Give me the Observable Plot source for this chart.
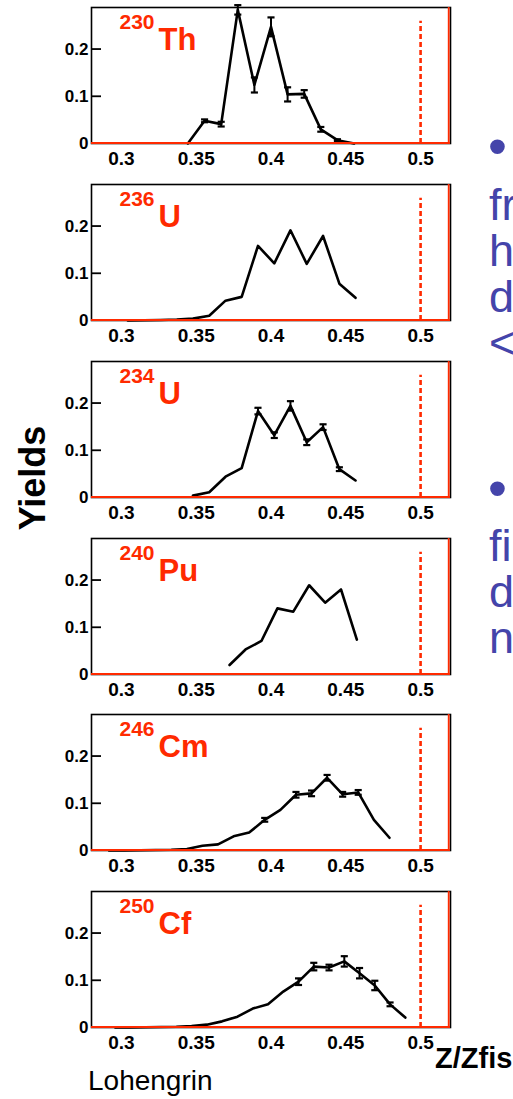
<!DOCTYPE html>
<html>
<head>
<meta charset="utf-8">
<script src="https://cdn.jsdelivr.net/npm/d3@7"></script>
<script src="https://cdn.jsdelivr.net/npm/@observablehq/plot@0.6"></script>
<style>
  html, body { margin: 0; padding: 0; background: #fff; }
  #page { position: relative; width: 513px; height: 1099px; overflow: hidden; font-family: "Liberation Sans", Arial, sans-serif; }
  .panel { position: absolute; left: 0; }
  #overlay { position: absolute; left: 0; top: 0; pointer-events: none; }
</style>
</head>
<body>
<div id="page"></div>
<script>
// ---------------- data ----------------
const xDomain = [0.28, 0.52];
const yDomain = [0, 0.288];
const xTicks = [0.3, 0.35, 0.4, 0.45, 0.5];
const xTickLabels = ["0.3", "0.35", "0.4", "0.45", "0.5"];
const yTicks = [0, 0.1, 0.2];
const yTickLabels = ["0", "0.1", "0.2"];
const symmetryX = 0.5;
const symmetryTop = 0.259;

const massNumbers = ["230", "236", "234", "240", "246", "250"];
const elements = ["Th", "U", "U", "Pu", "Cm", "Cf"];

const th230X = [0.3444, 0.3556, 0.3667, 0.3778, 0.3889, 0.4000, 0.4111, 0.4222, 0.4333, 0.4444, 0.4556];
const th230Y = [0, 0.048, 0.041, 0.283, 0.124, 0.247, 0.104, 0.105, 0.030, 0.007, 0];
const th230Err = [0, 0.003, 0.005, 0.010, 0.016, 0.020, 0.015, 0.008, 0.005, 0.002, 0];

const u236X = [0.3043, 0.3152, 0.3261, 0.3370, 0.3478, 0.3587, 0.3696, 0.3804, 0.3913, 0.4022, 0.4130, 0.4239, 0.4348, 0.4457, 0.4565];
const u236Y = [0, 0.0005, 0.001, 0.002, 0.004, 0.010, 0.042, 0.050, 0.158, 0.121, 0.191, 0.120, 0.179, 0.078, 0.048];
const u236Err = [0, 0, 0, 0, 0, 0, 0, 0, 0, 0, 0, 0, 0, 0, 0];

const u234X = [0.3478, 0.3587, 0.3696, 0.3804, 0.3913, 0.4022, 0.4130, 0.4239, 0.4348, 0.4457, 0.4565];
const u234Y = [0.004, 0.011, 0.044, 0.062, 0.183, 0.132, 0.194, 0.117, 0.149, 0.060, 0.036];
const u234Err = [0, 0, 0, 0, 0.007, 0.006, 0.010, 0.006, 0.006, 0.004, 0];

const pu240X = [0.3723, 0.3830, 0.3936, 0.4043, 0.4149, 0.4255, 0.4362, 0.4468, 0.4574];
const pu240Y = [0.020, 0.053, 0.071, 0.140, 0.133, 0.189, 0.152, 0.180, 0.074];
const pu240Err = [0, 0, 0, 0, 0, 0, 0, 0, 0];

const cm246X = [0.2917, 0.3021, 0.3125, 0.3229, 0.3333, 0.3438, 0.3542, 0.3646, 0.3750, 0.3854, 0.3958, 0.4063, 0.4167, 0.4271, 0.4375, 0.4479, 0.4583, 0.4688, 0.4792];
const cm246Y = [0, 0, 0.0005, 0.001, 0.0015, 0.003, 0.010, 0.013, 0.030, 0.038, 0.065, 0.086, 0.118, 0.121, 0.154, 0.119, 0.123, 0.065, 0.027];
const cm246Err = [0, 0, 0, 0, 0, 0, 0, 0, 0, 0, 0.004, 0, 0.006, 0.006, 0.006, 0.005, 0.005, 0, 0];

const cf250X = [0.2959, 0.3061, 0.3163, 0.3265, 0.3367, 0.3469, 0.3571, 0.3673, 0.3776, 0.3878, 0.3980, 0.4082, 0.4184, 0.4286, 0.4388, 0.4490, 0.4592, 0.4694, 0.4796, 0.4898];
const cf250Y = [0, 0, 0.0005, 0.001, 0.0015, 0.003, 0.006, 0.013, 0.023, 0.040, 0.049, 0.076, 0.097, 0.129, 0.127, 0.140, 0.115, 0.089, 0.049, 0.021];
const cf250Err = [0, 0, 0, 0, 0, 0, 0, 0, 0, 0, 0, 0, 0.007, 0.008, 0.006, 0.011, 0.011, 0.010, 0.004, 0];

const seriesX = [th230X, u236X, u234X, pu240X, cm246X, cf250X];
const seriesY = [th230Y, u236Y, u234Y, pu240Y, cm246Y, cf250Y];
const seriesErr = [th230Err, u236Err, u234Err, pu240Err, cm246Err, cf250Err];

const yAxisTitle = "Yields";
const xAxisTitle = "Z/Zfis";
const footnote = "Lohengrin";
const sideTextLines = ["\u2022", "fr", "h", "d", "<", "\u2022", "fi", "d", "n"];

// ---------------- layout / style ----------------
const RED = "#ff2a00";
const FONT = "'Liberation Sans', Arial, Helvetica, sans-serif";
const panelTops = [2, 179, 356, 533, 709, 886];
const W = 460, H = 177, ML = 91, MR = 10, MT = 5, MB = 36;
const plotW = W - ML - MR;

const capSymbol = {
  draw(context, size) {
    const w = Math.sqrt(size);
    context.moveTo(-w / 2, 0);
    context.lineTo(w / 2, 0);
  }
};

const page = document.getElementById("page");

seriesX.forEach((xs, i) => {
  const data = xs.map((x, j) => ({x, y: seriesY[i][j], e: seriesErr[i][j]}));
  const errs = data.filter(d => d.e > 0);
  const chart = Plot.plot({
    width: W,
    height: H,
    marginLeft: ML,
    marginRight: MR,
    marginTop: MT,
    marginBottom: MB,
    style: {fontFamily: FONT, background: "transparent", overflow: "visible"},
    x: {domain: xDomain},
    y: {domain: yDomain},
    marks: [
      Plot.axisX(xTicks, {tickSize: 0, tickPadding: 8, tickFormat: (d, k) => xTickLabels[k], fontSize: 19, fontWeight: "bold", fill: "black", label: null}),
      Plot.axisY(yTicks, {tickSize: 0, tickPadding: 3, tickFormat: (d, k) => yTickLabels[k], fontSize: 17, fontWeight: "bold", fill: "black", label: null}),
      Plot.tickY(yTicks.filter(t => t > 0), {y: d => d, insetRight: plotW - 10, stroke: "black", strokeWidth: 1.8}),
      Plot.ruleX([symmetryX], {y1: 0, y2: symmetryTop, stroke: RED, strokeWidth: 2.6, strokeDasharray: "5,3"}),
      Plot.line(data, {x: "x", y: "y", stroke: "black", strokeWidth: 2.6}),
      Plot.ruleX(errs, {x: "x", y1: d => d.y - d.e, y2: d => d.y + d.e, stroke: "black", strokeWidth: 2}),
      Plot.dot(errs, {x: "x", y: d => d.y - d.e, symbol: capSymbol, r: 4, stroke: "black", strokeWidth: 2.2, fill: "none"}),
      Plot.dot(errs, {x: "x", y: d => d.y + d.e, symbol: capSymbol, r: 4, stroke: "black", strokeWidth: 2.2, fill: "none"}),
      Plot.frame({stroke: "black", strokeWidth: 1.6}),
      Plot.ruleY([yDomain[0]], {stroke: RED, strokeWidth: 2, dy: -0.5}),
      Plot.ruleX([xDomain[1]], {stroke: RED, strokeWidth: 1.8, dx: -1.8}),
      Plot.text([massNumbers[i]], {frameAnchor: "top-left", lineAnchor: "top", textAnchor: "start", dx: 28, dy: 7, fill: RED, fontSize: 21, fontWeight: "bold", text: d => d}),
      Plot.text([elements[i]], {frameAnchor: "top-left", lineAnchor: "top", textAnchor: "start", dx: 67, dy: 20, fill: RED, fontSize: 31, fontWeight: "bold", text: d => d})
    ]
  });
  const div = document.createElement("div");
  div.className = "panel";
  div.style.top = panelTops[i] + "px";
  div.appendChild(chart);
  page.appendChild(div);
});

// overlay texts (axis titles, footnote, cut-off slide text)
const NS = "http://www.w3.org/2000/svg";
const ov = document.createElementNS(NS, "svg");
ov.setAttribute("id", "overlay");
ov.setAttribute("width", 513);
ov.setAttribute("height", 1099);
function addText(str, x, y, attrs) {
  const t = document.createElementNS(NS, "text");
  t.setAttribute("x", x);
  t.setAttribute("y", y);
  t.setAttribute("font-family", FONT);
  for (const k in attrs) t.setAttribute(k, attrs[k]);
  t.textContent = str;
  ov.appendChild(t);
  return t;
}
const yt = addText(yAxisTitle, 0, 0, {"font-size": 36, "font-weight": "bold", "text-anchor": "middle", fill: "black"});
yt.setAttribute("transform", "translate(45,478) rotate(-90)");
addText(xAxisTitle, 435, 1068, {"font-size": 29, "font-weight": "bold", fill: "black"});
addText(footnote, 88, 1090, {"font-size": 28, fill: "black"});
const sideBaselines = [165, 220, 266, 312, 358, 507, 561, 607, 653];
sideTextLines.forEach((s, k) => {
  const isBullet = s === "\u2022";
  addText(s, isBullet ? 488 : 489, sideBaselines[k], {"font-size": isBullet ? 54 : 45, fill: "#4444aa"});
});
page.appendChild(ov);
</script>
</body>
</html>
